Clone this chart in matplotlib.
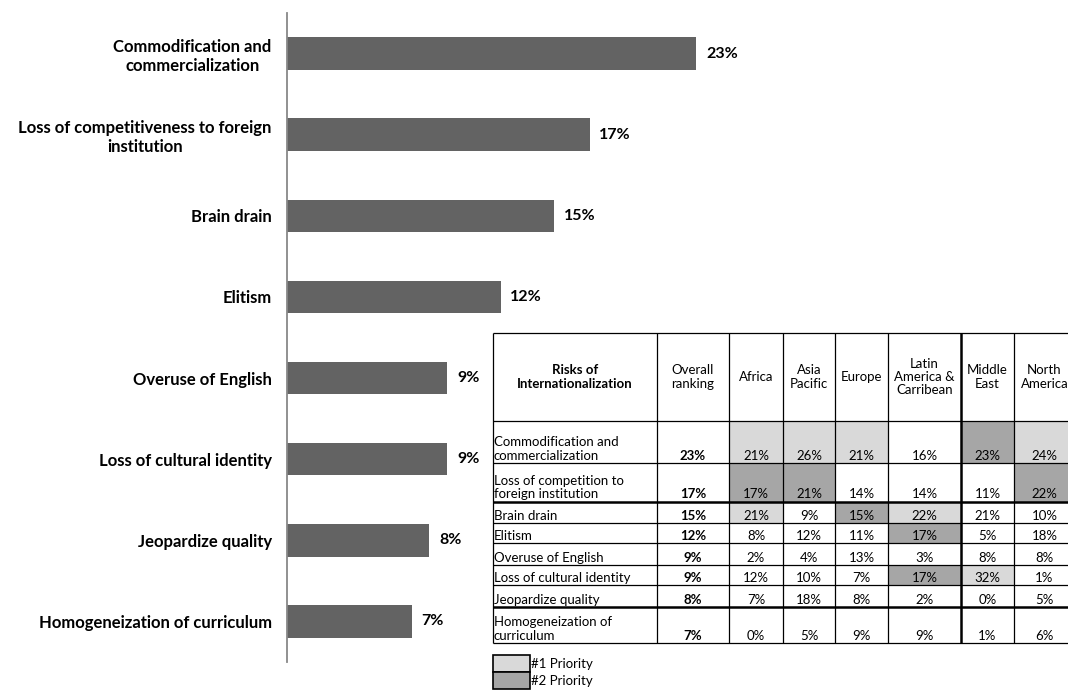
#----------------------------------------------------------------------
# Risks of internationalization: overall bar chart + regional table
#----------------------------------------------------------------------

import matplotlib

matplotlib.use('Agg')

import matplotlib.pyplot as plt
import matplotlib.patches as mpatches

plt.rcParams['font.family'] = ['Lato', 'DejaVu Sans']

risks = ['Commodification and\ncommercialization',
         'Loss of competitiveness to foreign\ninstitution',
         'Brain drain', 'Elitism', 'Overuse of English',
         'Loss of cultural identity', 'Jeopardize quality',
         'Homogeneization of curriculum']
overall = [23, 17, 15, 12, 9, 9, 8, 7]

table_rows = ['Commodification and\ncommercialization',
              'Loss of competition to\nforeign institution',
              'Brain drain', 'Elitism', 'Overuse of English',
              'Loss of cultural identity', 'Jeopardize quality',
              'Homogeneization of\ncurriculum']
table_header = ['Risks of\nInternationalization', 'Overall\nranking', 'Africa',
                'Asia\nPacific', 'Europe', 'Latin\nAmerica &\nCarribean',
                'Middle\nEast', 'North\nAmerica']
africa = [21, 17, 21, 8, 2, 12, 7, 0]
asia_pacific = [26, 21, 9, 12, 4, 10, 18, 5]
europe = [21, 14, 15, 11, 13, 7, 8, 9]
latin_america = [16, 14, 22, 17, 3, 17, 2, 9]
middle_east = [23, 11, 21, 5, 8, 32, 0, 1]
north_america = [24, 22, 10, 18, 8, 1, 5, 6]
# (row, region column) of highlighted cells
priority1 = [(0, 0), (0, 1), (0, 2), (0, 5), (2, 0), (2, 3), (5, 4)]
priority2 = [(0, 4), (1, 0), (1, 1), (1, 5), (2, 2), (3, 3), (5, 3)]
legend_labels = ['#1 Priority', '#2 Priority']

BAR = '#636363'
LIGHT = '#d9d9d9'
DARK = '#a6a6a6'


def plot_risks():

    W, H = 1068, 693
    fig = plt.figure(figsize=(W / 100., H / 100.), dpi=100)

    # ---- bar chart
    ax = fig.add_axes([287. / W, (H - 662.) / H, 712. / W, 649. / H])
    ypos = list(range(len(risks)))
    ax.barh(ypos, overall, height=0.4, color=BAR)
    ax.set_xlim(0, 40)
    ax.set_ylim(len(risks) - 0.5, -0.5)
    ax.set_yticks(ypos)
    ax.set_yticklabels(risks, fontsize=12, fontweight='bold',
                       multialignment='center', linespacing=1.2)
    ax.tick_params(axis='y', length=0, pad=11)
    ax.set_xticks([])
    for s in ['top', 'right', 'bottom']:
        ax.spines[s].set_visible(False)
    ax.spines['left'].set_color('#888888')
    ax.spines['left'].set_linewidth(1.3)
    for y, v in zip(ypos, overall):
        ax.annotate('{:d}%'.format(v), (v, y), xytext=(7, 0),
                    textcoords='offset points', va='center', ha='left',
                    fontsize=11.5, fontweight='bold')

    # ---- table, drawn in pixel coordinates
    tx = fig.add_axes([0, 0, 1, 1])
    tx.set_xlim(0, W)
    tx.set_ylim(H, 0)
    tx.axis('off')

    col_edges = [493, 657, 729, 783, 835, 888, 961, 1014, 1075]
    row_edges = [333, 421, 463, 502, 523, 543, 565, 585, 607, 643]
    fs = 9.5

    regions = [africa, asia_pacific, europe, latin_america, middle_east, north_america]

    for cells, col in [(priority1, LIGHT), (priority2, DARK)]:
        for r, c in cells:
            x0, x1 = col_edges[c + 2], col_edges[c + 3]
            y0, y1 = row_edges[r + 1], row_edges[r + 2]
            tx.add_patch(mpatches.Rectangle((x0, y0), x1 - x0, y1 - y0,
                                            facecolor=col, edgecolor='none'))

    # grid lines
    thick_rows = [3, 8]
    for i, y in enumerate(row_edges):
        tx.plot([col_edges[0], col_edges[-1]], [y, y], color='black',
                lw=1.8 if i in thick_rows else 0.9, solid_capstyle='butt')
    for i, x in enumerate(col_edges[:-1]):
        tx.plot([x, x], [row_edges[0], row_edges[-1]], color='black',
                lw=1.8 if i == 6 else 0.9, solid_capstyle='butt')

    # header
    hy = (row_edges[0] + row_edges[1]) / 2.
    for i, lab in enumerate(table_header):
        xc = (col_edges[i] + col_edges[i + 1]) / 2.
        tx.text(xc, hy, lab, ha='center', va='center', fontsize=fs,
                fontweight='bold' if i == 0 else 'normal',
                multialignment='center', linespacing=1.15)

    # body
    for r, lab in enumerate(table_rows):
        yb = row_edges[r + 2] - 1.5
        tx.text(col_edges[0] + 1, yb, lab, ha='left', va='bottom',
                fontsize=fs, linespacing=1.15)
        xc = (col_edges[1] + col_edges[2]) / 2.
        tx.text(xc, yb, '{:d}%'.format(overall[r]), ha='center', va='bottom',
                fontsize=fs, fontweight='bold')
        for c, vals in enumerate(regions):
            xc = (col_edges[c + 2] + col_edges[c + 3]) / 2.
            tx.text(xc, yb, '{:d}%'.format(vals[r]), ha='center', va='bottom',
                    fontsize=fs)

    # legend
    for i, (lab, col) in enumerate(zip(legend_labels, [LIGHT, DARK])):
        y0 = 655 + i * 17
        tx.add_patch(mpatches.Rectangle((493, y0), 37, 17, facecolor=col,
                                        edgecolor='black', lw=1.2))
        tx.text(531, y0 + 9, lab, ha='left', va='center', fontsize=fs)

    fig.savefig('out.png', dpi=100)

    return


if __name__ == "__main__":

    plot_risks()
